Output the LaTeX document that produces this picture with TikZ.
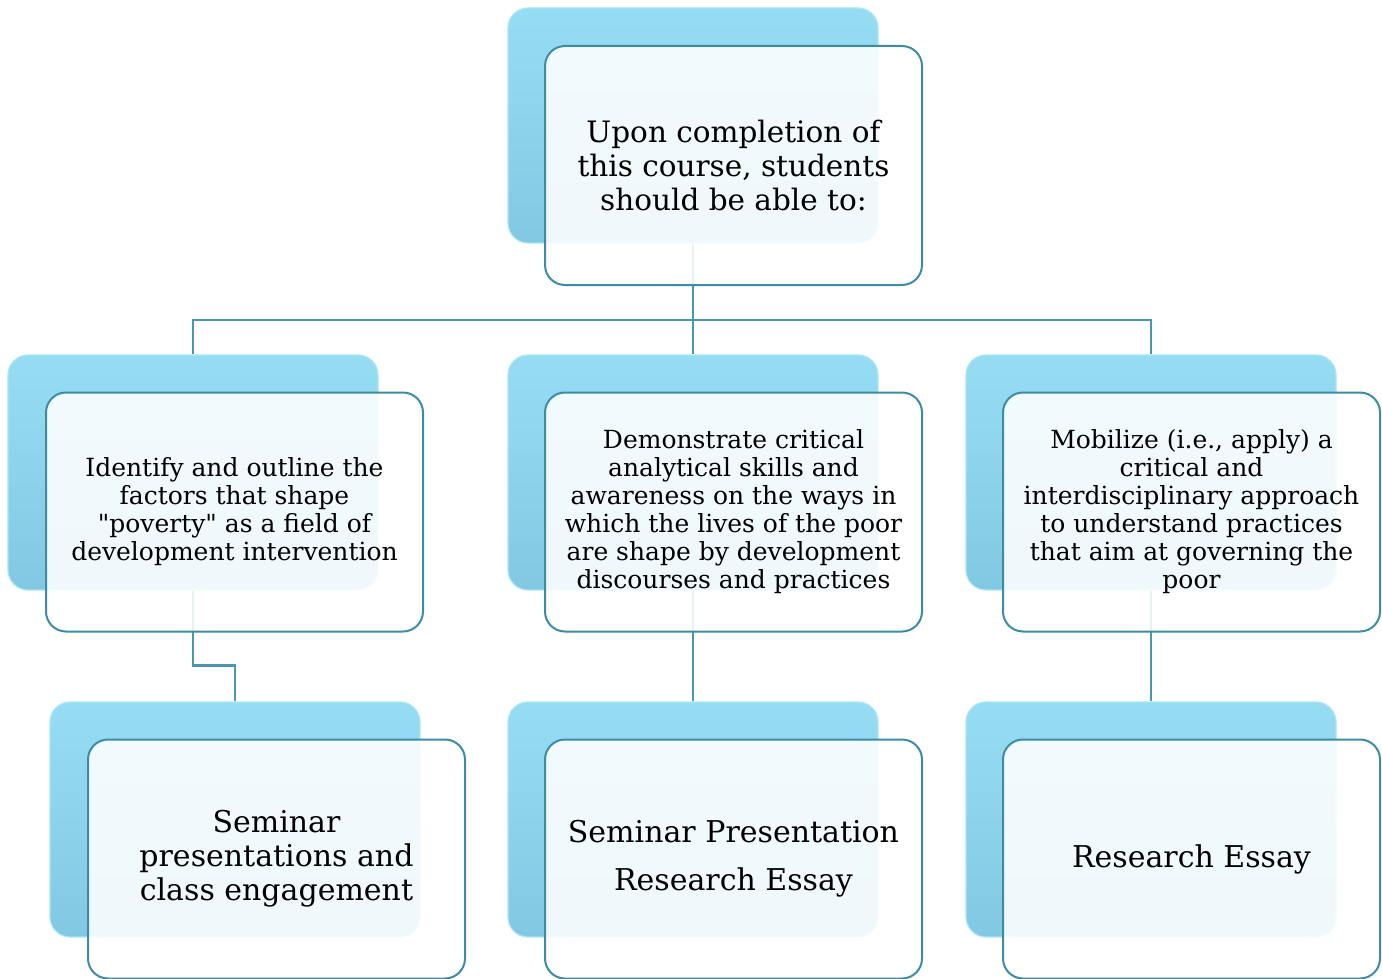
\documentclass[tikz,border=0pt]{standalone}
\usepackage{fontspec}
\setmainfont{DejaVu Serif}[Ligatures=TeXOff]
\definecolor{backtop}{HTML}{96DDF4}
\definecolor{backbot}{HTML}{82C8E2}
\definecolor{backedge}{HTML}{A8E6F8}
\definecolor{frontedge}{HTML}{3C8CA6}
\definecolor{connc}{HTML}{4A96AD}
\tikzset{
  backbox/.style={draw=backedge, line width=1.2pt, rounded corners=20pt, top color=backtop, bottom color=backbot, minimum width=370pt, minimum height=235pt, inner sep=0pt},
  frontbox/.style={draw=frontedge, line width=2pt, rounded corners=20pt, fill=white, fill opacity=0.88, text opacity=1, minimum width=377pt, minimum height=239pt, align=center, inner sep=0pt, text=black},
  conn/.style={draw=connc, line width=2.4pt},
  toptext/.style={font=\fontsize{29.5}{34}\selectfont},
  midtext/.style={font=\fontsize{25}{28}\selectfont},
  bottext/.style={font=\fontsize{30}{34}\selectfont},
}
\begin{document}
\begin{tikzpicture}[x=1pt,y=-1pt]
\useasboundingbox (0,0) rectangle (1382,979);
% back boxes
\node[backbox] (topback) at (693,125.5) {};
\node[backbox] (lback) at (193,472.5) {};
\node[backbox] (mback) at (693,472.5) {};
\node[backbox] (rback) at (1151,472.5) {};
\node[backbox] (lbback) at (235,819.5) {};
\node[backbox] (mbback) at (693,819.5) {};
\node[backbox] (rbback) at (1151,819.5) {};
% connectors
\coordinate (j) at (693,320);
\draw[conn] (topback.south) -- (mback.north);
\draw[conn] (lback.north) -- (lback.north |- j) -- (rback.north |- j) -- (rback.north);
\draw[conn] (lback.south) -- ++(0,75) -| (lbback.north);
\draw[conn] (mback.south) -- (mbback.north);
\draw[conn] (rback.south) -- (rbback.north);
% front boxes
\node[frontbox, toptext] (top) at (733.5,165.5) {Upon completion of\\this course, students\\should be able to:};
\node[frontbox, midtext] (l) at (234.5,512) {Identify and outline the\\factors that shape\\"poverty" as a field of\\development intervention};
\node[frontbox, midtext] (m) at (733.5,512) {Demonstrate critical\\analytical skills and\\awareness on the ways in\\which the lives of the poor\\are shape by development\\discourses and practices};
\node[frontbox, midtext] (r) at (1191.5,512) {Mobilize (i.e., apply) a\\critical and\\interdisciplinary approach\\to understand practices\\that aim at governing the\\poor};
\node[frontbox, bottext] (lb) at (276.5,859) {Seminar\\presentations and\\class engagement};
\node[frontbox, bottext, font=\fontsize{30}{48}\selectfont] (mb) at (733.5,859) {Seminar Presentation\\Research Essay};
\node[frontbox, bottext] (rb) at (1191.5,859) {Research Essay};
\end{tikzpicture}
\end{document}
